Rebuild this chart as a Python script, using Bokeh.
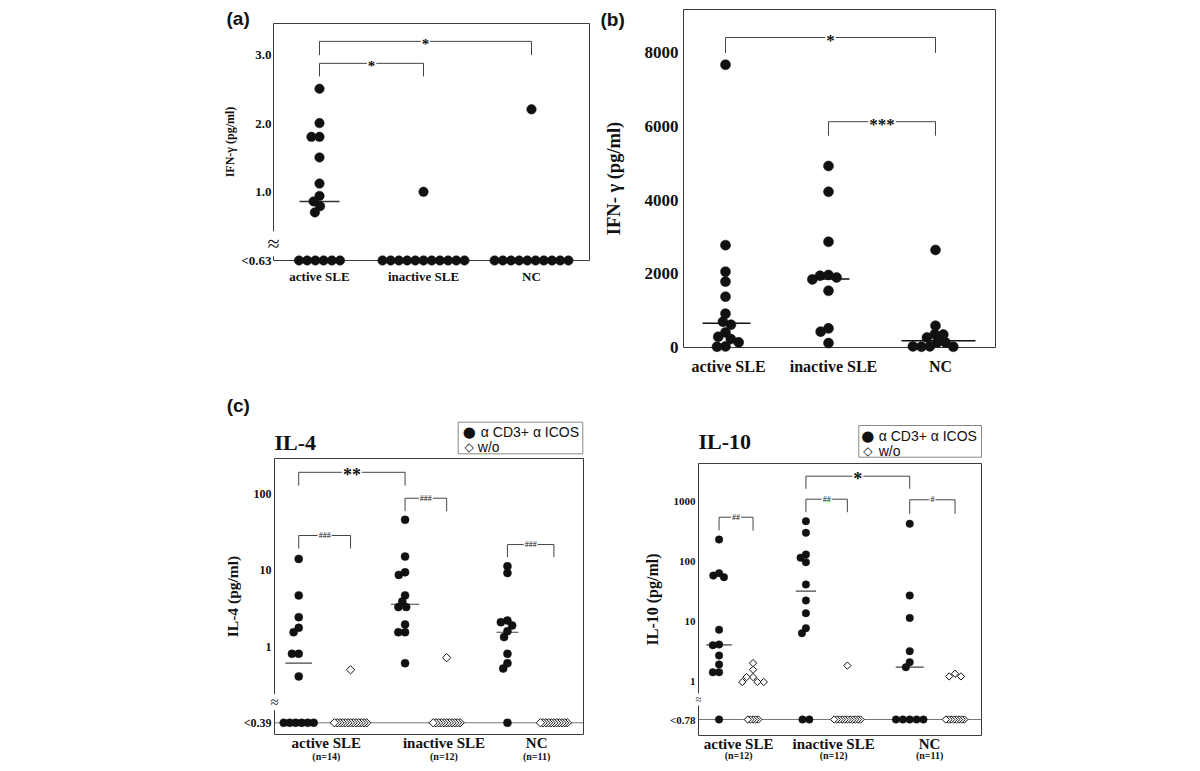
import numpy as np
from bokeh.plotting import figure
from bokeh.models import Range1d, FixedTicker, Span, Spacer
from bokeh.layouts import row, column
from bokeh.core.properties import value
from bokeh.embed import file_html
from bokeh.resources import INLINE

SERIF = "Liberation Serif"
SANS = "Liberation Sans"
SYMB = "DejaVu Sans"
INK = "#111111"
FRAME = "#3a3a3a"
ND = None  # below detection limit

GROUPS = ["active SLE", "inactive SLE", "NC"]

# ---------------- (a) IFN-gamma, low range (pg/ml) ----------------
a_active = [2.5, 2.0, 1.8, 1.8, 1.5, 1.12, 0.94, 0.86, 0.79, 0.70, ND, ND, ND, ND, ND, ND]
a_inactive = [1.0, ND, ND, ND, ND, ND, ND, ND, ND, ND, ND, ND]
a_nc = [2.2, ND, ND, ND, ND, ND, ND, ND, ND, ND, ND]
a_median = [0.86, ND, ND]
a_ticks = [1.0, 2.0, 3.0]
a_lod = "<0.63"
a_sig = [(0, 2, "*"), (0, 1, "*")]

# ---------------- (b) IFN-gamma (pg/ml) ----------------
b_active = [7680, 2780, 2060, 1790, 1380, 920, 700, 620, 410, 290, 230, 140, 30, 20]
b_inactive = [4930, 4230, 2870, 1970, 1950, 1900, 1850, 1540, 520, 430, 120]
b_nc = [2650, 590, 360, 350, 270, 140, 130, 30, 20, 20, 30]
b_median = [660, 1860, 180]
b_ticks = [0, 2000, 4000, 6000, 8000]
b_sig = [(0, 2, "*"), (1, 2, "***")]

# ---------------- (c) IL-4 (pg/ml) ----------------
il4_stim_active = [14.1, 4.7, 2.44, 1.77, 1.55, 0.81, 0.81, 0.41, ND, ND, ND, ND, ND, ND]
il4_wo_active = [0.50] + [ND] * 13
il4_stim_inactive = [45.7, 15.1, 9.4, 8.7, 4.7, 3.9, 3.3, 3.3, 1.96, 1.55, 1.55, 0.61]
il4_wo_inactive = [0.72] + [ND] * 11
il4_stim_nc = [11.3, 9.2, 2.2, 2.1, 1.9, 1.6, 1.34, 0.81, 0.61, 0.52, ND]
il4_wo_nc = [ND] * 11
il4_median = [0.61, 3.6, 1.55]
il4_n = [14, 12, 11]
il4_ticks = [1, 10, 100]
il4_lod = "<0.39"

# ---------------- (c) IL-10 (pg/ml) ----------------
il10_stim_active = [227, 62.5, 57, 53.7, 7.2, 4.07, 3.97, 2.67, 1.9, 1.41, 1.41, ND]
il10_wo_active = [2.0, 1.55, 1.17, 1.17, 0.97, 0.97, 0.97, ND, ND, ND, ND, ND]
il10_stim_inactive = [458, 294, 128, 113, 95.5, 40.6, 22, 13.5, 7.6, 6.3, ND, ND]
il10_wo_inactive = [1.82] + [ND] * 11
il10_stim_nc = [415, 26.6, 11.3, 3.16, 2.07, 1.71, ND, ND, ND, ND, ND]
il10_wo_nc = [1.33, 1.2, 1.2, ND, ND, ND, ND, ND, ND, ND, ND]
il10_median = [4.02, 31.4, 1.71]
il10_n = [12, 12, 11]
il10_ticks = [1, 10, 100, 1000]
il10_lod = "<0.78"

LEGEND_STIM = "\u03b1 CD3+ \u03b1 ICOS"
LEGEND_WO = "w/o"


# ---------------- helpers ----------------
def make_fig(fig_w, fig_h, bl, bt, fw, fh, y_range, log=False):
    p = figure(width=fig_w, height=fig_h, x_range=Range1d(0, fw), y_range=y_range,
               y_axis_type="log" if log else "linear", output_backend="svg",
               toolbar_location=None, min_border_left=bl, min_border_top=bt,
               min_border_right=fig_w - bl - fw, min_border_bottom=fig_h - bt - fh)
    p.grid.visible = False
    p.outline_line_color = FRAME
    p.outline_line_width = 1
    p.background_fill_color = "white"
    p.border_fill_color = "white"
    for ax in (p.xaxis[0], p.yaxis[0]):
        ax.axis_line_color = None
        ax.major_tick_line_color = None
        ax.minor_tick_line_color = None
        ax.major_tick_out = 0
        ax.major_tick_in = 0
        ax.minor_tick_out = 0
        ax.minor_tick_in = 0
        ax.major_label_text_font = SERIF
        ax.major_label_text_font_style = "bold"
        ax.major_label_text_color = INK
        ax.axis_label_text_font = SERIF
        ax.axis_label_text_font_style = "bold"
        ax.axis_label_text_color = INK
    return p


def swarm(ypx, dmin):
    placed, out = [], []
    for y in ypx:
        cands = [0.0]
        for (px, py) in placed:
            dy = abs(py - y)
            if dy < dmin:
                dx = (dmin ** 2 - dy ** 2) ** 0.5
                cands += [px - dx, px + dx]
        cands.sort(key=lambda c: (abs(c), c))
        chosen = cands[-1]
        for c in cands:
            if all((c - px) ** 2 + (y - py) ** 2 >= dmin ** 2 - 1e-6 for px, py in placed):
                chosen = c
                break
        placed.append((chosen, y))
        out.append(chosen)
    return out


def dots(p, xs, ys, diam, kind="dot"):
    if kind == "dot":
        r = p.scatter(xs, ys, marker="circle", size=diam, fill_color=INK,
                      line_color=INK, line_width=0.5)
    else:
        r = p.scatter(xs, ys, marker="square", size=diam / 2 ** 0.5, angle=np.pi / 4,
                      fill_color="white", line_color=INK, line_width=1)
    r.level = "overlay"
    return r


def draw_group(p, center, vals, base, to_px, diam, step, kind="dot", overlap=0.85):
    det = [v for v in vals if v is not None]
    nd = len(vals) - len(det)
    offs = swarm([to_px(v) for v in det], diam * overlap)
    bx = [center + (i - (nd - 1) / 2) * step for i in range(nd)][::-1]
    xs = [center + o for o in offs] + bx
    ys = det + [base] * nd
    dots(p, xs, ys, diam, kind)


def draw_median(p, center, med, half, width=1.5, color="#333333"):
    if med is None:
        return
    p.segment(x0=[center - half], y0=[med], x1=[center + half], y1=[med],
              line_color=color, line_width=width)


def add_text(p, x, y, text, size, font=SERIF, bold=True, align="left", baseline="middle",
             y_offset=0, **kw):
    r = p.text(x=[x], y=[y], text=[text], text_font=value(font),
               text_font_style="bold" if bold else "normal",
               text_font_size=value(size), text_color=INK, text_align=align,
               text_baseline=baseline, y_offset=y_offset, **kw)
    r.level = "overlay"
    return r


def bracket(p, x0, x1, y, ye, text, size, bold=True, yoff=3):
    p.multi_line(xs=[[x0, x0, x1, x1]], ys=[[ye, y, y, ye]], line_color="#444444", line_width=1)
    add_text(p, (x0 + x1) / 2, y, text, size, bold=bold, align="center", y_offset=yoff,
             background_fill_color="white", padding=1)


def legend_box(p, up, left, right, top, bottom, mx, y1, y2, tx1, tx2, size):
    r = p.quad(left=[left], right=[right], top=[up(top)], bottom=[up(bottom)],
               fill_color="white", line_color="#888888", line_width=1)
    r.level = "overlay"
    add_text(p, mx, up(y1), "\u25cf", "15px", font=SYMB, bold=False, align="center")
    add_text(p, mx, up(y2), "\u25c7", "12px", font=SYMB, bold=False, align="center")
    add_text(p, tx1, up(y1), LEGEND_STIM, size, font=SANS, bold=False)
    add_text(p, tx2, up(y2), LEGEND_WO, size, font=SANS, bold=False)


def x_labels(p, positions, size, standoff):
    p.xaxis.ticker = FixedTicker(ticks=positions)
    p.xaxis.major_label_overrides = {pos: g for pos, g in zip(positions, GROUPS)}
    p.xaxis.major_label_text_font_size = size
    p.xaxis.major_label_standoff = standoff


# ================= panel (a) =================
A_FW, A_FH, A_TOP = 316, 237, 3.45
pa = make_fig(375, 375, 53, 15, A_FW, A_FH, Range1d(0, A_TOP))
a_up = lambda up: up * A_TOP / A_FH          # frame-relative pixels -> data
a_px = lambda v: v * A_FH / A_TOP
a_pos = [46, 150, 258]
for c, vals, med in zip(a_pos, [a_active, a_inactive, a_nc], a_median):
    draw_median(pa, c, med, 20)
    draw_group(pa, c, vals, 0, a_px, 9.5, 8.2)
pa.yaxis.ticker = FixedTicker(ticks=[0] + a_ticks)
pa.yaxis.major_label_overrides = {0: a_lod, **{t: f"{t:.1f}" for t in a_ticks}}
pa.yaxis.major_label_text_font_size = "13px"
pa.yaxis.major_label_standoff = 2
pa.yaxis.axis_label = "IFN-\u03b3 (pg/ml)"
pa.yaxis.axis_label_text_font_size = "12px"
pa.yaxis.axis_label_standoff = 1
x_labels(pa, a_pos, "13px", 8)
a_br = [(3.19, 2.99), (2.87, 2.68)]
for (g0, g1, t), (y, ye) in zip(a_sig, a_br):
    bracket(pa, a_pos[g0], a_pos[g1], y, ye, t, "15px")
add_text(pa, 0, a_up(16.7), "\u2248", "22px", bold=False, align="center",
         background_fill_color="white", padding=0)
add_text(pa, -47, a_up(242.5), "(a)", "19px", font=SANS)

# ================= panel (b) =================
B_FW, B_FH, B_TOP = 312, 338, 9180
pb = make_fig(400, 375, 83, 1, B_FW, B_FH, Range1d(0, B_TOP))
b_up = lambda up: up * B_TOP / B_FH
b_px = lambda v: v * B_FH / B_TOP
b_pos = [42, 145, 252]
b_half = [24, 20, 37]
for c, vals, med, h in zip(b_pos, [b_active, b_inactive, b_nc], b_median, b_half):
    draw_median(pb, c + (3 if c == 252 else 1), med, h, color="#111111")
    draw_group(pb, c, vals, 0, b_px, 10, 8)
pb.yaxis.ticker = FixedTicker(ticks=b_ticks)
pb.yaxis.major_label_text_font_size = "17px"
pb.yaxis.major_label_standoff = 5
pb.yaxis.axis_label = "IFN- \u03b3 (pg/ml)"
pb.yaxis.axis_label_text_font_size = "18.5px"
pb.yaxis.axis_label_standoff = 18
x_labels(pb, [45, 150, 257], "16px", 10)
b_br = [(8420, 8000), (6133, 5753)]
for (g0, g1, t), (y, ye) in zip(b_sig, b_br):
    bracket(pb, b_pos[g0], b_pos[g1], y, ye, t, "17px")
add_text(pb, -83, b_up(328), "(b)", "19px", font=SANS)

# ================= panel (c) IL-4 =================
C1_FW, C1_FH = 310, 276
c1_lo, c1_hi = -1.1466, 2.4614
C1_BASE = 10 ** -0.9935
pc1 = make_fig(370, 380, 53, 75, C1_FW, C1_FH, Range1d(10 ** c1_lo, 10 ** c1_hi), log=True)
c1_up = lambda up: 10 ** (c1_lo + up * (c1_hi - c1_lo) / C1_FH)
c1_px = lambda v: np.log10(v) * C1_FH / (c1_hi - c1_lo)
c1_stim_pos = [24.3, 131, 233.7]
c1_wo_pos = [76.3, 172.7, 280.3]
pc1.add_layout(Span(location=C1_BASE, dimension="width", line_color="#777777", line_width=1))
for c, vals, med, h in zip(c1_stim_pos, [il4_stim_active, il4_stim_inactive, il4_stim_nc],
                           il4_median, [13.3, 14.3, 11]):
    draw_median(pc1, c, med, h, width=1.2, color="#444444")
    draw_group(pc1, c, vals, C1_BASE, c1_px, 8, 6)
for c, vals in zip(c1_wo_pos, [il4_wo_active, il4_wo_inactive, il4_wo_nc]):
    draw_group(pc1, c, vals, C1_BASE, c1_px, 8.3, 2.7, kind="diamond", overlap=0.9)
pc1.yaxis.ticker = FixedTicker(ticks=[C1_BASE] + il4_ticks)
pc1.yaxis.major_label_overrides = {C1_BASE: il4_lod, **{t: str(t) for t in il4_ticks}}
pc1.yaxis.major_label_text_font_size = "12px"
pc1.yaxis.major_label_standoff = 3
pc1.yaxis.axis_label = "IL-4 (pg/ml)"
pc1.yaxis.axis_label_text_font_size = "15.5px"
pc1.yaxis.axis_label_standoff = 0
c1_lab = [52, 170, 263]
x_labels(pc1, c1_lab, "15px", 0)
for x, n in zip(c1_lab, il4_n):
    add_text(pc1, x, c1_up(-21.7), f"(n={n})", "10px", align="center")
bracket(pc1, c1_stim_pos[0], c1_stim_pos[1], 191, 128, "**", "18px")
for (x0, x1), (y, ye) in zip(zip(c1_stim_pos, c1_wo_pos), [(28.5, 19.3), (87.5, 59.3), (21.7, 14.8)]):
    bracket(pc1, x0, x1, y, ye, "###", "8px", bold=False, yoff=0)
add_text(pc1, 0, 10 ** -0.724, "\u2248", "15px", bold=False, align="center",
         background_fill_color="white", padding=0)
add_text(pc1, -48, c1_up(329), "(c)", "19px", font=SANS)
add_text(pc1, 0, c1_up(292.3), "IL-4", "22px")
legend_box(pc1, c1_up, 184.3, 309.3, 312.3, 280.7, 195.3, 302.3, 287.7, 207, 204, "14px")

# ================= panel (c) IL-10 =================
C2_FW, C2_FH = 289, 272
c2_lo, c2_hi = -0.903, 3.6205
C2_BASE = 10 ** -0.637
pc2 = make_fig(350, 380, 52, 80, C2_FW, C2_FH, Range1d(10 ** c2_lo, 10 ** c2_hi), log=True)
c2_up = lambda up: 10 ** (c2_lo + up * (c2_hi - c2_lo) / C2_FH)
c2_px = lambda v: np.log10(v) * C2_FH / (c2_hi - c2_lo)
c2_stim_pos = [21, 109.7, 215.7]
c2_wo_pos = [55.7, 152, 262]
pc2.add_layout(Span(location=C2_BASE, dimension="width", line_color="#777777", line_width=1))
for c, vals, med, h in zip(c2_stim_pos, [il10_stim_active, il10_stim_inactive, il10_stim_nc],
                           il10_median, [13, 10.3, 14.3]):
    draw_median(pc2, c, med, h, width=1.2, color="#444444")
    draw_group(pc2, c, vals, C2_BASE, c2_px, 7.5, 7)
for c, vals in zip(c2_wo_pos, [il10_wo_active, il10_wo_inactive, il10_wo_nc]):
    draw_group(pc2, c, vals, C2_BASE, c2_px, 7.3, 2.7, kind="diamond", overlap=0.9)
pc2.yaxis.ticker = FixedTicker(ticks=[C2_BASE] + il10_ticks)
pc2.yaxis.major_label_overrides = {C2_BASE: il10_lod, **{t: str(t) for t in il10_ticks}}
pc2.yaxis.major_label_text_font_size = "11px"
pc2.yaxis.major_label_standoff = 3
pc2.yaxis.axis_label = "IL-10 (pg/ml)"
pc2.yaxis.axis_label_text_font_size = "16px"
pc2.yaxis.axis_label_standoff = 6
c2_lab = [41, 138, 236]
x_labels(pc2, c2_lab, "15px", 0)
for x, n in zip(c2_lab, il10_n):
    add_text(pc2, x, c2_up(-19.7), f"(n={n})", "10px", align="center")
bracket(pc2, c2_stim_pos[1], c2_stim_pos[2], 2566, 1585, "*", "18px")
for (x0, x1), (y, ye), t in zip(zip(c2_stim_pos, c2_wo_pos),
                                [(534, 321), (1064, 646), (1040, 608)], ["##", "##", "#"]):
    bracket(pc2, x0, x1, y, ye, t, "8px", bold=False, yoff=0)
add_text(pc2, 0, 10 ** -0.304, "\u2248", "11px", bold=False, align="center",
         background_fill_color="white", padding=0)
add_text(pc2, 0, c2_up(294.3), "IL-10", "22px")
legend_box(pc2, c2_up, 163.7, 289, 310, 278.3, 173, 300, 285, 184, 184, "14px")

layout = column(
    Spacer(width=10, height=8),
    row(Spacer(width=220, height=375), column(pa), Spacer(width=5, height=375), column(pb)),
    row(Spacer(width=220, height=380), column(pc1), Spacer(width=50, height=380), column(pc2)),
)

open("out.html", "w").write(file_html(layout, INLINE))
